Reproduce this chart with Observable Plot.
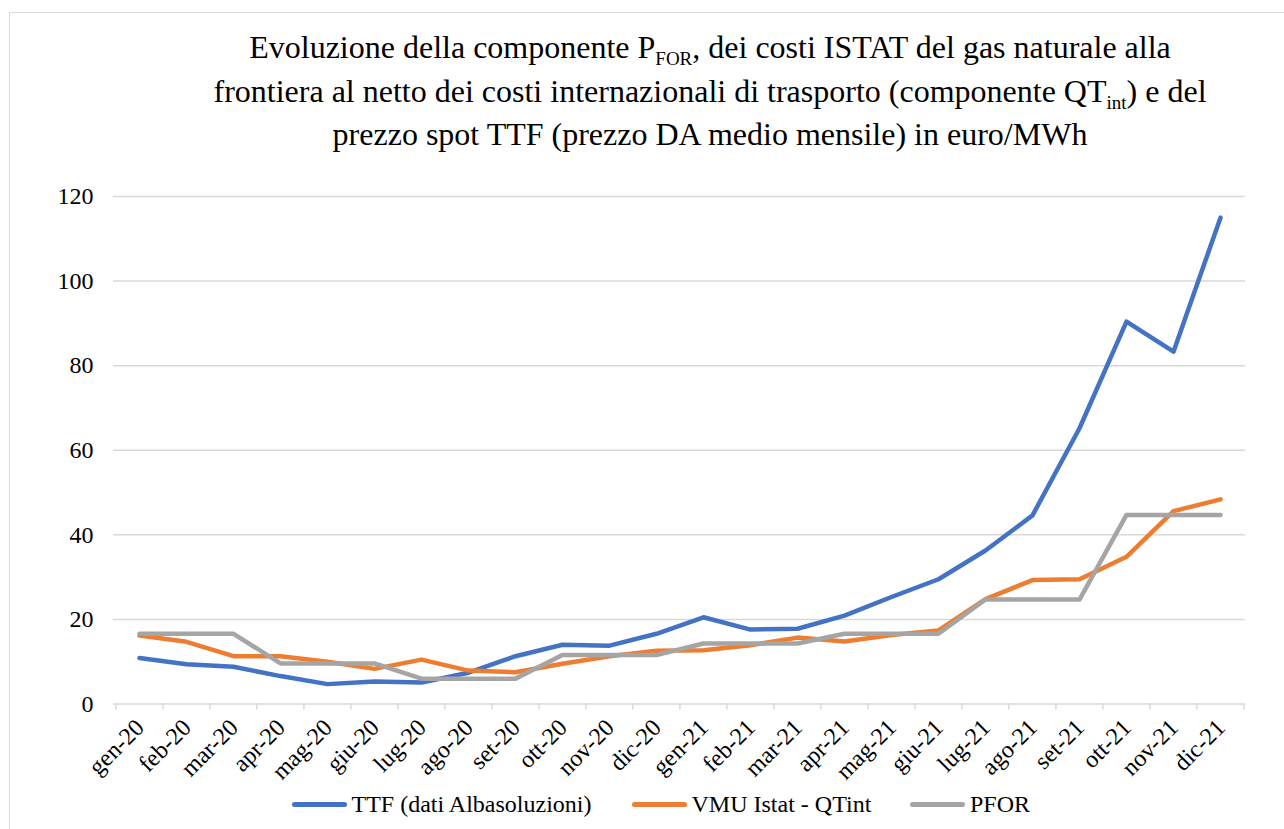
<!DOCTYPE html>
<html>
<head>
<meta charset="utf-8">
<script src="https://cdn.jsdelivr.net/npm/d3@7"></script>
<script src="https://cdn.jsdelivr.net/npm/@observablehq/plot@0.6"></script>
<style>
  html, body { margin: 0; padding: 0; background: #fff; overflow: hidden; }
  #wrap { position: relative; width: 1284px; height: 829px; font-family: "Liberation Serif", "Times New Roman", serif; color: #000; }
  #frame { position: absolute; left: 9px; top: 12px; width: 1300px; height: 840px; border: 1.5px solid #d9d9d9; box-sizing: border-box; }
  #title { position: absolute; left: 160px; width: 1100px; top: 28px; text-align: center; font-size: 32px; line-height: 38.5px; }
  #title sub { font-size: 19px; vertical-align: baseline; position: relative; top: 7px; }
  #chart { position: absolute; left: 0; top: 150px; }
  #chart svg, #chart svg text { font-family: "Liberation Serif", "Times New Roman", serif !important; }
  #legend { position: absolute; top: 791px; left: 0; width: 1284px; height: 30px; font-size: 24px; }
  .item { position: absolute; top: 0; display: flex; align-items: center; white-space: nowrap; }
  .sw { width: 55px; height: 5px; border-radius: 3px; margin-right: 5px; }
</style>
</head>
<body>
<div id="wrap">
  <div id="frame"></div>
  <div id="title">Evoluzione della componente P<sub>FOR</sub>, dei costi ISTAT del gas naturale alla<br>frontiera al netto dei costi internazionali di trasporto (componente QT<sub>int</sub>) e del<br>prezzo spot TTF (prezzo DA medio mensile) in euro/MWh</div>
  <div id="chart"></div>
  <div id="legend"></div>
</div>
<script>
const months = ["gen-20","feb-20","mar-20","apr-20","mag-20","giu-20","lug-20","ago-20","set-20","ott-20","nov-20","dic-20",
                "gen-21","feb-21","mar-21","apr-21","mag-21","giu-21","lug-21","ago-21","set-21","ott-21","nov-21","dic-21"];
const ttf  = [10.9, 9.4, 8.8, 6.6, 4.7, 5.3, 5.1, 7.4, 11.3, 14.0, 13.8, 16.6, 20.5, 17.6, 17.8, 20.9, 25.3, 29.5, 36.3, 44.6, 65.2, 90.4, 83.3, 115.0];
const vmu  = [16.2, 14.7, 11.3, 11.3, 10.0, 8.3, 10.5, 7.9, 7.5, 9.5, 11.3, 12.6, 12.7, 13.9, 15.7, 14.8, 16.3, 17.4, 24.8, 29.3, 29.5, 34.8, 45.6, 48.4];
const pfor = [16.6, 16.6, 16.6, 9.6, 9.6, 9.6, 6.0, 6.0, 6.0, 11.6, 11.6, 11.6, 14.3, 14.3, 14.3, 16.6, 16.6, 16.6, 24.7, 24.7, 24.7, 44.7, 44.7, 44.7];
const seriesNames = ["TTF (dati Albasoluzioni)", "VMU Istat - QTint", "PFOR"];
const seriesColors = ["#4472C4", "#ED7D31", "#A5A5A5"];
const yTicks = [0, 20, 40, 60, 80, 100, 120];

const seriesValues = [ttf, vmu, pfor];
const rows = seriesNames.flatMap((s, i) => months.map((m, j) => ({series: s, month: m, value: seriesValues[i][j]})));

const W = 1284, H = 640, ML = 113, MR = 39, MT = 46, MB = 86.5;
const step = (W - ML - MR) / months.length;
const font = "'Liberation Serif', 'Times New Roman', serif";

const chart = Plot.plot({
  width: W, height: H,
  marginLeft: ML, marginRight: MR, marginTop: MT, marginBottom: MB,
  style: {fontFamily: font, background: "transparent", overflow: "visible"},
  x: {type: "point", domain: months, padding: 0.5},
  y: {domain: [0, 120]},
  color: {domain: seriesNames, range: seriesColors},
  marks: [
    Plot.gridY(yTicks, {stroke: "#d9d9d9", strokeOpacity: 1, strokeWidth: 1.5}),
    Plot.axisY(yTicks, {tickSize: 0, tickPadding: 20, fontSize: 24, fill: "#000", label: null}),
    Plot.axisX(months, {tickSize: 6, tickFormat: () => "", dx: -step / 2, stroke: "#d9d9d9", strokeOpacity: 1, strokeWidth: 1.5, label: null}),
    Plot.axisX(months.slice(-1), {tickSize: 6, tickFormat: () => "", dx: step / 2, stroke: "#d9d9d9", strokeOpacity: 1, strokeWidth: 1.5, label: null}),
    Plot.text(months, {x: d => d, frameAnchor: "bottom", text: d => d, rotate: -45, textAnchor: "end", lineAnchor: "bottom", dx: 6, dy: 25, fontSize: 24, fill: "#000"}),
    Plot.line(rows, {x: "month", y: "value", z: "series", stroke: "series", strokeWidth: 4.5, strokeLinejoin: "round", strokeLinecap: "round"})
  ]
});
document.getElementById("chart").appendChild(chart);

// legend
const legendPos = [291.5, 631.5, 910];
const legend = document.getElementById("legend");
seriesNames.forEach((s, i) => {
  const it = document.createElement("div");
  it.className = "item";
  it.style.left = legendPos[i] + "px";
  const sw = document.createElement("div");
  sw.className = "sw";
  sw.style.background = seriesColors[i];
  const tx = document.createElement("span");
  tx.textContent = s;
  it.appendChild(sw); it.appendChild(tx);
  legend.appendChild(it);
});
</script>
</body>
</html>
